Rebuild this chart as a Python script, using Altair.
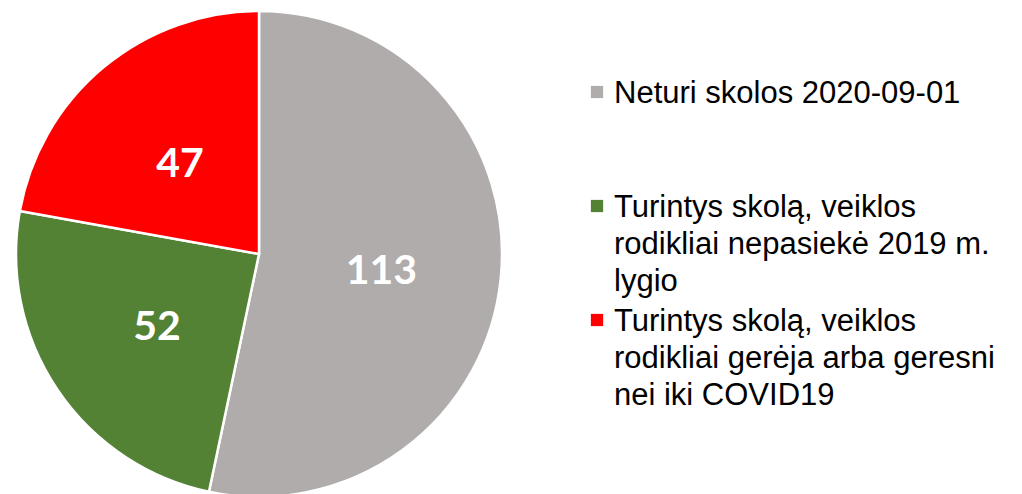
import altair as alt
import pandas as pd

# --- data ---
legend_lines = [
    ["Neturi skolos 2020-09-01"],
    ["Turintys skolą, veiklos", "rodikliai nepasiekė 2019 m.", "lygio"],
    ["Turintys skolą, veiklos", "rodikliai gerėja arba geresni", "nei iki COVID19"],
]
values = [113, 52, 47]
colors = ["#AFACAB", "#548235", "#FF0000"]
order_idx = [0, 1, 2]

categories = ["|".join(lines) for lines in legend_lines]

df = pd.DataFrame({
    "kategorija": categories,
    "reiksme": values,
    "eile": order_idx,
})

color = alt.Color("kategorija:N",
                  scale=alt.Scale(domain=categories, range=colors),
                  legend=None)

base = alt.Chart(df).encode(
    theta=alt.Theta("reiksme:Q", stack=True),
    order=alt.Order("eile:Q"),
)

pie = base.mark_arc(radius=243, stroke="white", strokeWidth=2.5).encode(color=color)

nums = base.mark_text(radius=123, font="Lato", fontSize=41, fontWeight="bold",
                      baseline="middle", align="center", dy=5).encode(
    text="reiksme:Q", color=alt.value("white"))

ypos = alt.Y("eile:O", axis=None,
             scale=alt.Scale(type="point", range=[70, 298], padding=0))

leg_sym = alt.Chart(df).mark_square(size=150, opacity=1).encode(
    x=alt.value(589), y=ypos, color=color)

leg_txt = alt.Chart(df).mark_text(
    align="left", baseline="middle", font="Liberation Sans", fontSize=31,
    lineHeight=37, lineBreak="|", color="black", dy=2).encode(
    x=alt.value(606), y=ypos, text="kategorija:N")

chart = alt.layer(pie, nums, leg_sym, leg_txt).properties(
    width=502, height=464,
    padding={"left": 0, "top": 14, "right": 498, "bottom": 8},
    autosize=alt.AutoSizeParams(type="none"),
).configure_view(stroke=None)

chart.save("out.html", embed_options={"renderer": "svg", "actions": False})
